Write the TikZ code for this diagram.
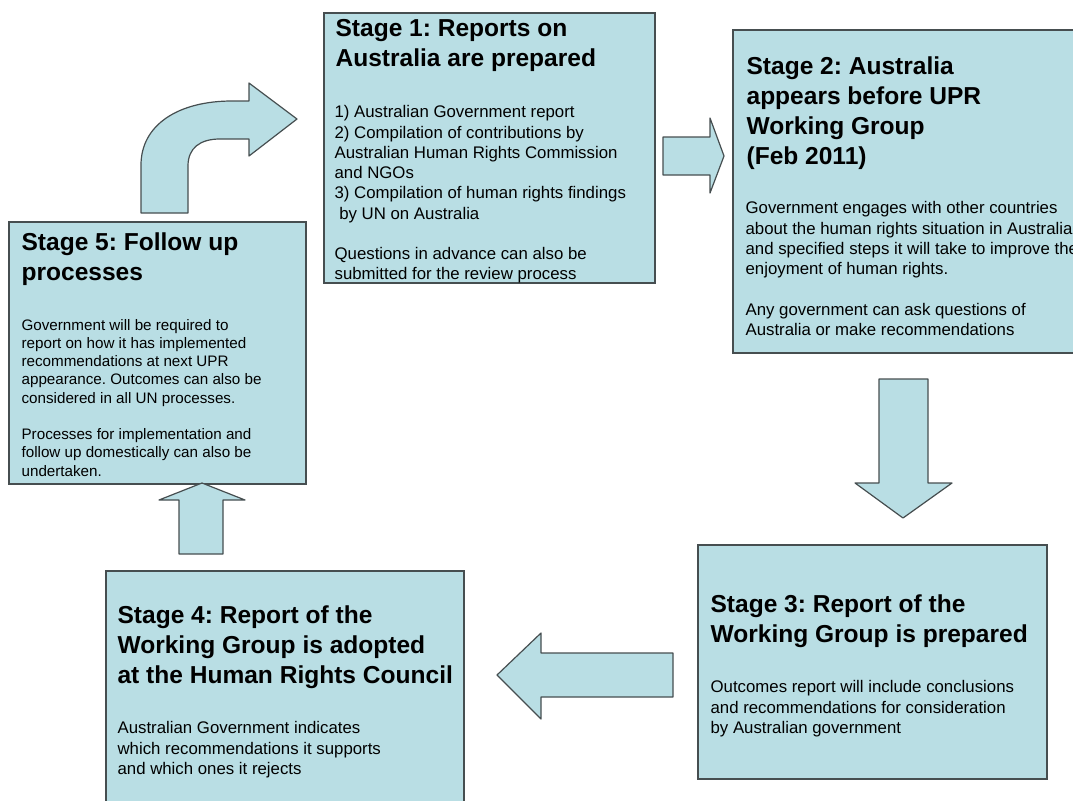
\documentclass[tikz,border=0pt]{standalone}
\usepackage{fontspec}
\setmainfont{Liberation Sans}
\usepackage{tikz}
\usetikzlibrary{positioning}
\usetikzlibrary{fit}
\frenchspacing

\definecolor{boxblue}{RGB}{185,222,228}
\definecolor{boxline}{RGB}{70,78,80}

\begin{document}
\begin{tikzpicture}[x=0.75pt, y=-0.75pt,
    stagebox/.style={draw=boxline, fill=boxblue, line width=1pt, inner sep=0pt},
    blockarrow/.style={draw=boxline, fill=boxblue, line width=0.9pt, line join=round},
    title/.style={anchor=north west, inner sep=0pt, align=left, font=\fontsize{18.4}{22.5}\selectfont\bfseries\frenchspacing},
    body/.style={anchor=north west, inner sep=0pt, align=left, font=\fontsize{12.6}{15.2}\selectfont\frenchspacing},
    smallbody/.style={anchor=north west, inner sep=0pt, align=left, font=\fontsize{11.4}{13.7}\selectfont\frenchspacing}]
    \clip (0,0) rectangle (1073,800);

    \node[stagebox, fit={(324,13) (655,283)}] (s1) {};
    \node[stagebox, fit={(733,30) (1085,353)}] (s2) {};
    \node[stagebox, fit={(698,545) (1047,779)}] (s3) {};
    \node[stagebox, fit={(106,571) (464,810)}] (s4) {};
    \node[stagebox, fit={(9,222) (306,484)}] (s5) {};

    \node[title] (s1title) at ([shift={(12,7)}]s1.north west) {Stage 1: Reports on\\Australia are prepared};
    \node[body] (s1body) at ([shift={(11,93)}]s1.north west) {1) Australian Government report\\2) Compilation of contributions by\\Australian Human Rights Commission\\and NGOs\\3) Compilation of human rights findings\\\hspace{0.28em}by UN on Australia\\[\baselineskip]Questions in advance can also be\\submitted for the review process};

    \node[title] (s2title) at ([shift={(14,27)}]s2.north west) {Stage 2: Australia\\appears before UPR\\Working Group\\(Feb 2011)};
    \node[body] (s2body) at ([shift={(13,172)}]s2.north west) {Government engages with other countries\\about the human rights situation in Australia\\and specified steps it will take to improve the\\enjoyment of human rights.\\[\baselineskip]Any government can ask questions of\\Australia or make recommendations};

    \node[title] (s3title) at ([shift={(13,50)}]s3.north west) {Stage 3: Report of the\\Working Group is prepared};
    \node[body] (s3body) at ([shift={(13,136)}]s3.north west) {Outcomes report will include conclusions\\and recommendations for consideration\\by Australian government};

    \node[title] (s4title) at ([shift={(12,35)}]s4.north west) {Stage 4: Report of the\\Working Group is adopted\\at the Human Rights Council};
    \node[body] (s4body) at ([shift={(12,151)}]s4.north west) {Australian Government indicates\\which recommendations it supports\\and which ones it rejects};

    \node[title] (s5title) at ([shift={(13,11)}]s5.north west) {Stage 5: Follow up\\processes};
    \node[smallbody] (s5body) at ([shift={(13,97.5)}]s5.north west) {Government will be required to\\report on how it has implemented\\recommendations at next UPR\\appearance. Outcomes can also be\\considered in all UN processes.\\[\baselineskip]Processes for implementation and\\follow up domestically can also be\\undertaken.};

    \draw[blockarrow] (141,213) -- (141,165) .. controls (141,125) and (178,101) .. (232,101) -- (249,101) -- (249,83) -- (297,119) -- (249,156) -- (249,139) -- (220,139) .. controls (200,139) and (188,148) .. (188,166) -- (188,213) -- cycle;
    \draw[blockarrow] (663,137) -- (710,137) -- (710,118) -- (724,156) -- (710,193) -- (710,175) -- (663,175) -- cycle;
    \draw[blockarrow] (879,379) -- (928,379) -- (928,483) -- (952,483) -- (903,518) -- (855,483) -- (879,483) -- cycle;
    \draw[blockarrow] (673,653) -- (541,653) -- (541,633) -- (497,675) -- (541,719) -- (541,697) -- (673,697) -- cycle;
    \draw[blockarrow] (179,554) -- (179,500) -- (159,500) -- (202,483) -- (245,500) -- (223,500) -- (223,554) -- cycle;
\end{tikzpicture}
\end{document}
